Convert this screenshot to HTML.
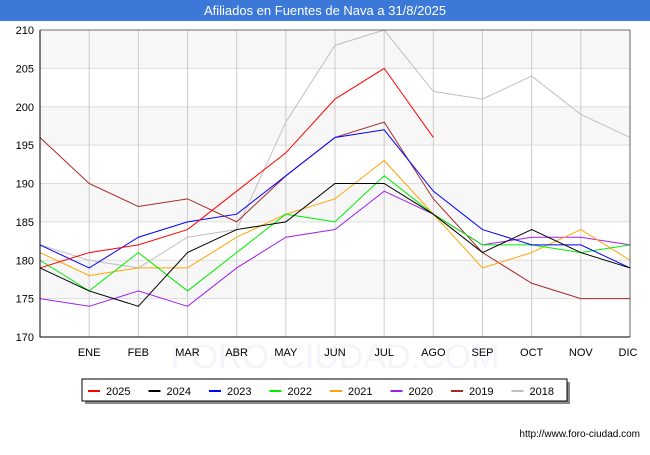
<!DOCTYPE html>
<html><head><meta charset="utf-8"><style>
body{margin:0;width:650px;height:450px;background:#fff;font-family:"Liberation Sans",sans-serif;overflow:hidden}
</style></head><body>
<svg width="650" height="450" xmlns="http://www.w3.org/2000/svg">
<rect x="0" y="0" width="650" height="21" fill="#3b78d8"/>
<text x="325" y="15" text-anchor="middle" fill="#fff" font-size="13">Afiliados en Fuentes de Nava a 31/8/2025</text>
<g id="plot"></g>
<g id="legend"></g>
<text x="640" y="437" text-anchor="end" font-size="10" fill="#000">http://www.foro-ciudad.com</text>
</svg>
<script>
const months=["","ENE","FEB","MAR","ABR","MAY","JUN","JUL","AGO","SEP","OCT","NOV","DIC"];
const yTicks=[170,175,180,185,190,195,200,205,210];
const seriesNames=["2025","2024","2023","2022","2021","2020","2019","2018"];
const seriesColors=["#ff0000","#000000","#0000ff","#00ee00","#ffa500","#a020f0","#a52a2a","#c0c0c0"];
const s2025=[179,181,182,184,189,194,201,205,196];
const s2024=[179,176,174,181,184,185,190,190,186,181,184,181,179];
const s2023=[182,179,183,185,186,191,196,197,189,184,182,182,179];
const s2022=[180,176,181,176,181,186,185,191,186,182,182,181,182];
const s2021=[181,178,179,179,183,186,188,193,186,179,181,184,180];
const s2020=[175,174,176,174,179,183,184,189,186,182,183,183,182];
const s2019=[196,190,187,188,185,191,196,198,188,181,177,175,175];
const s2018=[182,180,179,183,184,198,208,210,202,201,204,199,196];
const allSeries=[s2025,s2024,s2023,s2022,s2021,s2020,s2019,s2018];
const NS="http://www.w3.org/2000/svg";
const L=40,R=630,T=30,B=337,yMin=170,yMax=210;
const xs=i=>L+i*(R-L)/(months.length-1);
const ys=v=>B-(v-yMin)*(B-T)/(yMax-yMin);
const plot=document.getElementById('plot');
function mk(tag,attrs,parent){const e=document.createElementNS(NS,tag);for(const k in attrs)e.setAttribute(k,attrs[k]);parent.appendChild(e);return e;}
for(let i=0;i<yTicks.length-1;i++){
 if(i%2===1){const b=mk('rect',{x:L,y:ys(yTicks[i+1]),width:R-L,height:ys(yTicks[i])-ys(yTicks[i+1]),fill:'#f7f7f7'},plot);
 
 }
}
const wm=mk('text',{x:335,y:368,'text-anchor':'middle','font-size':'34',fill:'#f3f5fa'},plot);wm.textContent='FORO-CIUDAD.COM';


yTicks.forEach(v=>{
 const l=mk('line',{x1:L,x2:R,y1:ys(v),y2:ys(v),stroke:'#dddddd'},plot);
 
 
 const t=mk('text',{x:L-6,y:ys(v)+4,'text-anchor':'end','font-size':'11',fill:'#000'},plot);t.textContent=v;
 
 
});
months.forEach((m,i)=>{
 if(i>0){const l=mk('line',{x1:xs(i),x2:xs(i),y1:T,y2:B,stroke:'#cccccc'},plot);
 
 }
 const t=mk('text',{x:i===12?xs(i)-2:xs(i),y:B+19,'text-anchor':'middle','font-size':'11',fill:'#000'},plot);t.textContent=m;
 
 
});
for(let s=allSeries.length-1;s>=0;s--){
 const pts=allSeries[s].map((v,i)=>xs(i)+','+ys(v)).join(' ');
 const p=mk('polyline',{points:pts,fill:'none',stroke:seriesColors[s],'stroke-width':'1'},plot);
 
 
}
const ax=mk('path',{d:`M${L},${T}V${B}H${R}`,fill:'none',stroke:'#000'},plot);


const fr=mk('rect',{x:L,y:T,width:R-L,height:B-T,fill:'none',stroke:'#000','stroke-width':'0.5'},plot);


const lg=document.getElementById('legend');
const sh=mk('rect',{x:85,y:382,width:485,height:22,fill:'#888'},lg);


const box=mk('rect',{x:82,y:379,width:485,height:22,fill:'#fff',stroke:'#000'},lg);


seriesNames.forEach((n,i)=>{
 const x0=88+i*60.5;
 const l=mk('line',{x1:x0,x2:x0+12,y1:391,y2:391,stroke:seriesColors[i],'stroke-width':'2'},lg);
 
 
 const t=mk('text',{x:x0+18,y:395,'font-size':'11',fill:'#000'},lg);t.textContent=n;
 
 
});
</script>
</body></html>
